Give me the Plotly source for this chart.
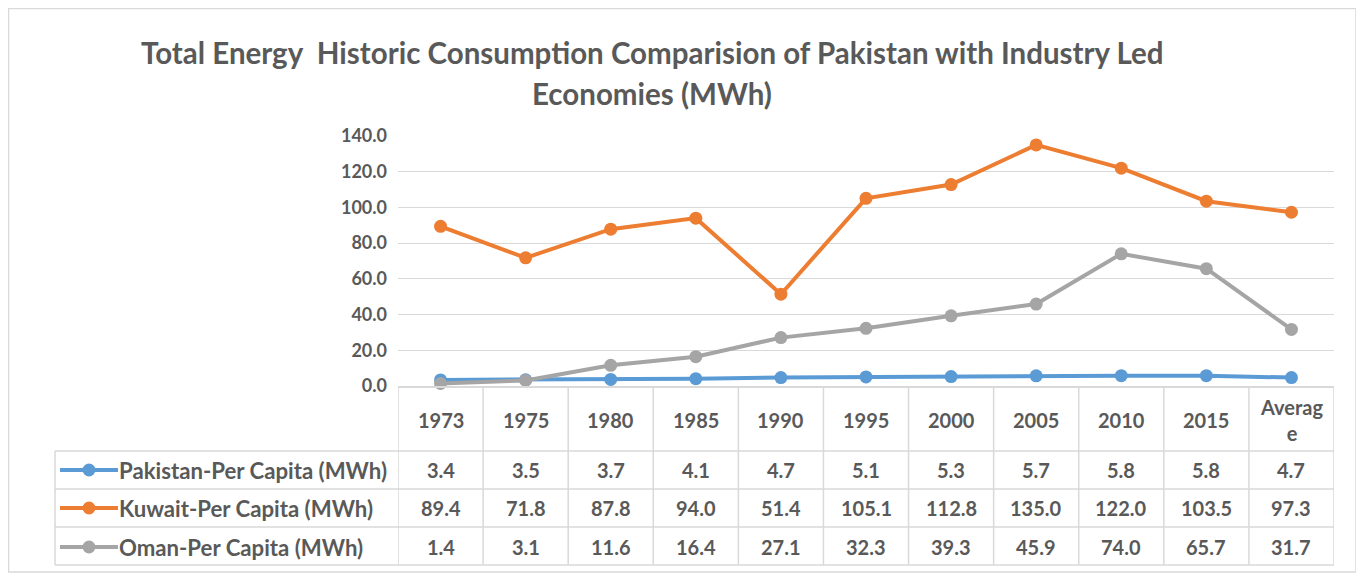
import plotly.graph_objects as go

categories = ["1973", "1975", "1980", "1985", "1990", "1995", "2000", "2005", "2010", "2015", "Average"]
header_labels = ["1973", "1975", "1980", "1985", "1990", "1995", "2000", "2005", "2010", "2015", "Averag<br>e"]
pakistan = [3.4, 3.5, 3.7, 4.1, 4.7, 5.1, 5.3, 5.7, 5.8, 5.8, 4.7]
kuwait = [89.4, 71.8, 87.8, 94.0, 51.4, 105.1, 112.8, 135.0, 122.0, 103.5, 97.3]
oman = [1.4, 3.1, 11.6, 16.4, 27.1, 32.3, 39.3, 45.9, 74.0, 65.7, 31.7]
series_names = ["Pakistan-Per Capita (MWh)", "Kuwait-Per Capita (MWh)", "Oman-Per Capita (MWh)"]
series_values = [pakistan, kuwait, oman]
colors = ["#5b9bd5", "#ed7d31", "#a5a5a5"]
y_ticks = [0, 20, 40, 60, 80, 100, 120, 140]

OFF = 8  # page body margin
W, H = 1364 - OFF, 575 - OFF
# plot area in page pixels: x 398..1334, y 136..386
L = 398 - OFF
T = 136 - OFF
R = W - (1334 - OFF)
B = H - (386 - OFF)
pw, ph = W - L - R, H - T - B
TXT = "#595959"
GRID = "#d9d9d9"
FONT = "Lato"


def px(x):
    return (x - OFF - L) / pw


def py(y):
    return (H - B - (y - OFF)) / ph


fig = go.Figure()
for name, vals, c in zip(series_names, series_values, colors):
    fig.add_trace(go.Scatter(
        x=categories, y=vals, name=name, mode="lines+markers",
        line=dict(color=c, width=4), marker=dict(color=c, size=13),
        showlegend=False, cliponaxis=False,
    ))

shapes = []
annotations = []

# outer border
shapes.append(dict(type="rect", xref="paper", yref="paper",
                   x0=px(OFF + 0.5), x1=px(1356), y0=py(572), y1=py(OFF + 0.5),
                   line=dict(color=GRID, width=1.5), layer="below"))

# table rows
row_lines = [451, 489, 527, 565]
for yl in row_lines:
    shapes.append(dict(type="line", xref="paper", yref="paper",
                       x0=px(55), x1=1, y0=py(yl), y1=py(yl),
                       line=dict(color=GRID, width=1.5)))
shapes.append(dict(type="line", xref="paper", yref="paper",
                   x0=px(55), x1=px(55), y0=py(451), y1=py(565),
                   line=dict(color=GRID, width=1.5)))
for k in range(len(categories) + 1):
    shapes.append(dict(type="line", xref="x", yref="paper",
                       x0=k - 0.5, x1=k - 0.5, y0=0, y1=py(565),
                       line=dict(color=GRID, width=1.5)))

# header labels
for i, lab in enumerate(header_labels):
    annotations.append(dict(x=i, y=py(420), xref="x", yref="paper", text=lab,
                            showarrow=False, xanchor="center", yanchor="middle",
                            font=dict(family=FONT, size=20, color=TXT, weight="bold")))

row_centers = [470, 508, 547]
for r, (name, vals, c) in enumerate(zip(series_names, series_values, colors)):
    yc = row_centers[r]
    for i, v in enumerate(vals):
        annotations.append(dict(x=i, y=py(yc), xref="x", yref="paper", text=f"{v:.1f}",
                                showarrow=False, xanchor="center", yanchor="middle",
                                font=dict(family=FONT, size=20, color=TXT, weight="bold")))
    # legend key
    shapes.append(dict(type="line", xref="paper", yref="paper",
                       x0=px(60), x1=px(118), y0=py(yc), y1=py(yc),
                       line=dict(color=c, width=4)))
    rr = 6.5
    shapes.append(dict(type="circle", xref="paper", yref="paper",
                       x0=px(89 - rr), x1=px(89 + rr), y0=py(yc + rr), y1=py(yc - rr),
                       fillcolor=c, line=dict(color=c, width=0)))
    annotations.append(dict(x=px(117), y=py(yc), xref="paper", yref="paper", text=name,
                            showarrow=False, xanchor="left", yanchor="middle",
                            font=dict(family=FONT, size=22.2, color=TXT, weight="bold")))

# title
annotations.append(dict(x=px(652), y=py(53), xref="paper", yref="paper",
                        text="Total Energy \u00a0Historic Consumption Comparision of Pakistan with Industry Led",
                        showarrow=False, xanchor="center", yanchor="middle",
                        font=dict(family=FONT, size=29.5, color=TXT, weight="bold")))
annotations.append(dict(x=px(652), y=py(93), xref="paper", yref="paper",
                        text="Economies (MWh)",
                        showarrow=False, xanchor="center", yanchor="middle",
                        font=dict(family=FONT, size=29.5, color=TXT, weight="bold")))

fig.update_layout(
    width=W, height=H,
    margin=dict(l=L, r=R, t=T, b=B),
    paper_bgcolor="white", plot_bgcolor="white",
    shapes=shapes, annotations=annotations,
    xaxis=dict(type="category", range=[-0.5, len(categories) - 0.5],
               showticklabels=False, showgrid=False, zeroline=False,
               showline=True, linecolor=GRID, linewidth=1.5, ticks=""),
    yaxis=dict(range=[0, 140], tickvals=y_ticks, ticktext=[f"{t:.1f}" for t in y_ticks],
               showgrid=True, gridcolor=GRID, gridwidth=1.2, zeroline=False,
               showline=False, ticks="", ticklabelstandoff=10,
               tickfont=dict(family=FONT, size=18, color=TXT, weight="bold")),
)

fig.write_html("out.html")
